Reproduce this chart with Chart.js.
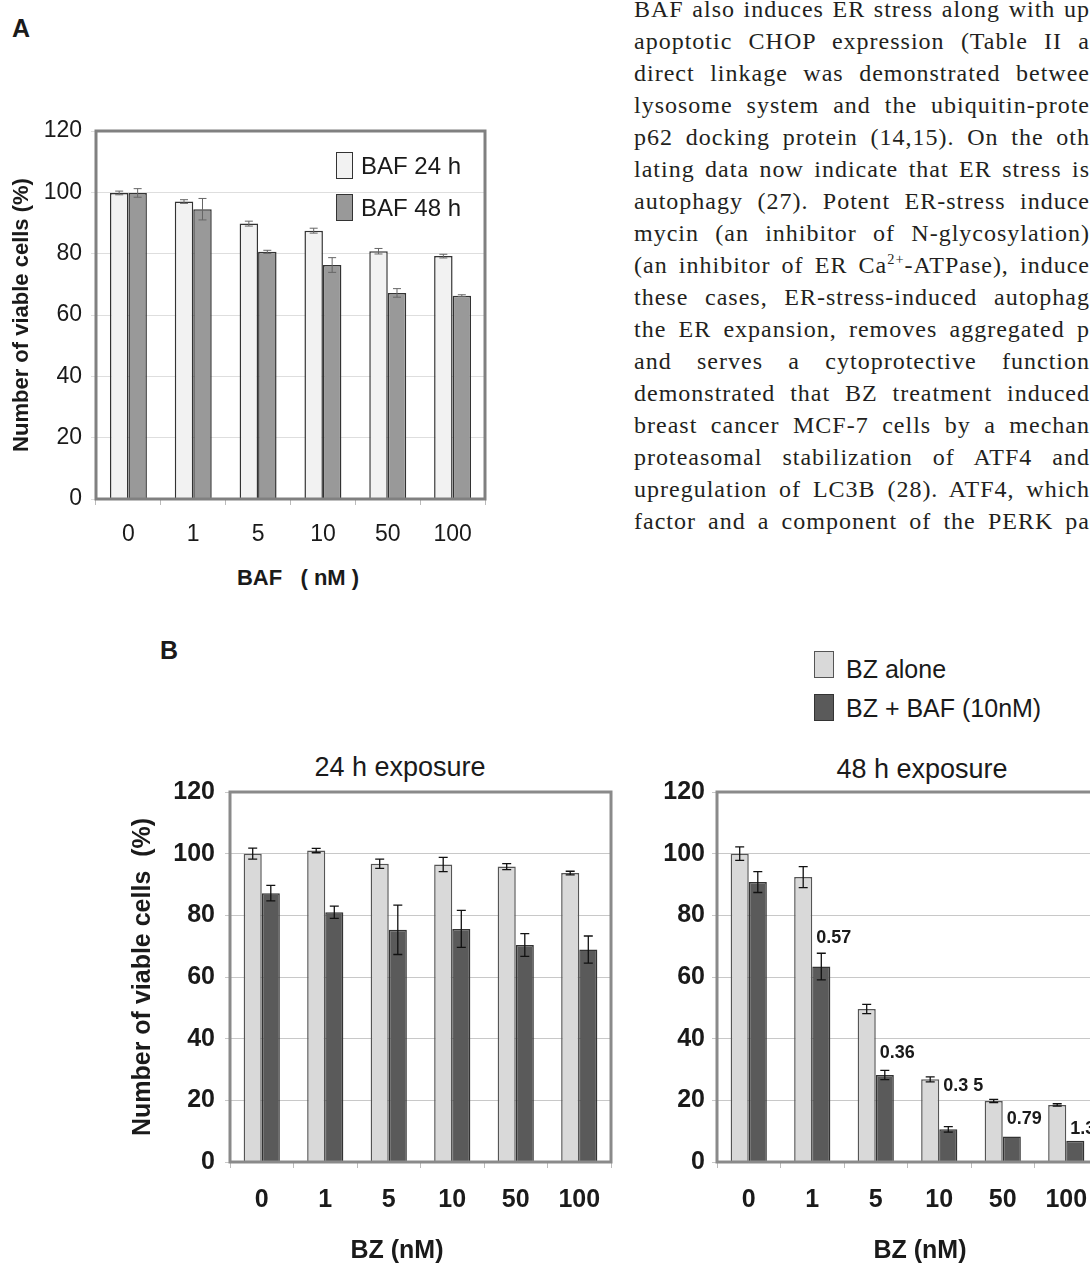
<!DOCTYPE html>
<html>
<head>
<meta charset="utf-8">
<script src="https://cdn.jsdelivr.net/npm/chart.js@4.4.0/dist/chart.umd.min.js"></script>
<style>
  html, body { margin: 0; padding: 0; background: #fff; }
  body { width: 1090px; height: 1264px; overflow: hidden; position: relative; font-family: "Liberation Sans", Arial, sans-serif; color: #1a1a1a; }
  canvas { position: absolute; }
  .t { position: absolute; white-space: nowrap; }
  .panel { font-size: 25px; font-weight: bold; line-height: 25px; }
  .sw { position: absolute; box-sizing: border-box; border: 1.5px solid #333; }
  #para { position: absolute; left: 634px; top: -7px; width: 456px; font-family: "Liberation Serif", "Times New Roman", serif; font-size: 24px; color: #231f20; letter-spacing: 1px; }
  #para div { height: 32px; line-height: 32px; overflow: hidden; text-align: justify; text-align-last: justify; }
  #para sup { font-size: 0.6em; line-height: 0; vertical-align: 0.6em; }
</style>
</head>
<body>

<div class="t panel" style="left:12px;top:16px">A</div>
<div class="t panel" style="left:160px;top:638px">B</div>

<div id="para">
  <div>BAF also induces ER stress along with up</div>
  <div>apoptotic CHOP expression (Table II a</div>
  <div>direct linkage was demonstrated betwee</div>
  <div>lysosome system and the ubiquitin-prote</div>
  <div>p62 docking protein (14,15). On the oth</div>
  <div>lating data now indicate that ER stress is</div>
  <div>autophagy (27). Potent ER-stress induce</div>
  <div>mycin (an inhibitor of N-glycosylation)</div>
  <div>(an inhibitor of ER Ca<sup>2+</sup>-ATPase), induce</div>
  <div>these cases, ER-stress-induced autophag</div>
  <div>the ER expansion, removes aggregated p</div>
  <div>and serves a cytoprotective function</div>
  <div>demonstrated that BZ treatment induced</div>
  <div>breast cancer MCF-7 cells by a mechan</div>
  <div>proteasomal stabilization of ATF4 and</div>
  <div>upregulation of LC3B (28). ATF4, which</div>
  <div>factor and a component of the PERK pa</div>
</div>

<!-- panel A -->
<canvas id="chartA" width="500" height="460" style="left:0px;top:100px"></canvas>
<div class="sw" style="left:336px;top:152px;width:17px;height:27px;background:#f2f2f2"></div>
<div class="sw" style="left:336px;top:194px;width:17px;height:27px;background:#999"></div>
<div class="t" style="left:361px;top:154px;font-size:24px;line-height:24px">BAF 24 h</div>
<div class="t" style="left:361px;top:196px;font-size:24px;line-height:24px">BAF 48 h</div>
<div class="t" style="left:198px;top:567px;width:200px;text-align:center;font-size:22px;line-height:22px;font-weight:bold">BAF&nbsp;&nbsp;&nbsp;( nM )</div>

<!-- panel B -->
<div class="sw" style="left:814px;top:651px;width:20px;height:27px;background:#d9d9d9;border-color:#555"></div>
<div class="sw" style="left:814px;top:694px;width:20px;height:27px;background:#5a5a5a"></div>
<div class="t" style="left:846px;top:657px;font-size:25px;line-height:25px">BZ alone</div>
<div class="t" style="left:846px;top:696px;font-size:25px;line-height:25px">BZ + BAF (10nM)</div>

<div class="t" style="left:250px;top:754px;width:300px;text-align:center;font-size:27px;line-height:27px">24 h exposure</div>
<div class="t" style="left:772px;top:756px;width:300px;text-align:center;font-size:27px;line-height:27px">48 h exposure</div>

<canvas id="chartB1" width="510" height="524" style="left:110px;top:740px"></canvas>
<canvas id="chartB2" width="490" height="524" style="left:620px;top:740px"></canvas>

<div class="t" style="left:297px;top:1237px;width:200px;text-align:center;font-size:25px;line-height:25px;font-weight:bold">BZ (nM)</div>
<div class="t" style="left:820px;top:1237px;width:200px;text-align:center;font-size:25px;line-height:25px;font-weight:bold">BZ (nM)</div>

<script>
// doses on the x axis (nM)
const DOSES = ['0', '1', '5', '10', '50', '100'];
const Y_TICKS = [0, 20, 40, 60, 80, 100, 120];

// A: BAF alone
const BAF_24H = [99.8, 97.0, 89.8, 87.5, 80.8, 79.2];
const BAF_24H_ERR = [0.6, 0.6, 0.8, 0.8, 0.9, 0.6];
const BAF_48H = [99.8, 94.5, 80.6, 76.3, 67.2, 66.3];
const BAF_48H_ERR = [1.4, 3.5, 0.5, 2.4, 1.4, 0.3];

// B: 24 h exposure
const BZ_ALONE_24 = [100, 101, 96.7, 96.5, 95.8, 93.7];
const BZ_ALONE_24_ERR = [1.8, 0.7, 1.5, 2.3, 1.0, 0.6];
const BZ_BAF_24 = [87.2, 81.0, 75.3, 75.6, 70.4, 68.9];
const BZ_BAF_24_ERR = [2.5, 2.0, 8.0, 6.0, 3.7, 4.4];

// B: 48 h exposure
const BZ_ALONE_48 = [100, 92.4, 49.6, 26.8, 19.8, 18.5];
const BZ_ALONE_48_ERR = [2.2, 3.4, 1.5, 0.8, 0.5, 0.4];
const BZ_BAF_48 = [90.8, 63.4, 28.2, 10.6, 8.3, 6.9];
const BZ_BAF_48_ERR = [3.4, 4.3, 1.5, 0.9, 0, 0];
// ratio numbers printed next to the combined bars, and the level they sit at
const RATIO_TEXT = ['', '0.57', '0.36', '0.3 5', '0.79', '1.3'];
const RATIO_AT = [null, 72.7, 35.4, 24.7, 14.0, 10.7];

Chart.defaults.font.family = '"Liberation Sans", Arial, sans-serif';
Chart.defaults.color = '#1a1a1a';

// frame around the plot, error bars and the ratio labels
const panelExtras = {
    id: 'panelExtras',
    afterDatasetsDraw(chart, args, opts) {
        const ctx = chart.ctx;
        const a = chart.chartArea;
        const y = chart.scales.y;
        ctx.save();
        ctx.strokeStyle = opts.frameColor;
        ctx.lineWidth = 3;
        ctx.strokeRect(a.left, a.top, a.right - a.left, a.bottom - a.top);

        ctx.strokeStyle = opts.errColor;
        ctx.lineWidth = opts.errWidth;
        chart.data.datasets.forEach((ds, i) => {
            chart.getDatasetMeta(i).data.forEach((bar, j) => {
                const e = ds.errors[j];
                if (!e) return;
                const hi = y.getPixelForValue(ds.data[j] + e);
                const lo = y.getPixelForValue(ds.data[j] - e);
                const c = opts.cap;
                ctx.beginPath();
                ctx.moveTo(bar.x, hi); ctx.lineTo(bar.x, lo);
                ctx.moveTo(bar.x - c, hi); ctx.lineTo(bar.x + c, hi);
                ctx.moveTo(bar.x - c, lo); ctx.lineTo(bar.x + c, lo);
                ctx.stroke();
            });
        });

        if (opts.ratios) {
            const bars = chart.getDatasetMeta(1).data;
            ctx.fillStyle = '#1a1a1a';
            ctx.font = 'bold 18px "Liberation Sans", Arial, sans-serif';
            ctx.textAlign = 'left';
            ctx.textBaseline = 'middle';
            opts.ratios.text.forEach((t, j) => {
                if (!t) return;
                ctx.fillText(t, bars[j].x - 5, y.getPixelForValue(opts.ratios.at[j]));
            });
        }
        ctx.restore();
    }
};

function makeBars(id, s) {
    let ctx = document.getElementById(id).getContext('2d');
    return new Chart(ctx, {
        type: 'bar',
        data: {
            labels: DOSES,
            datasets: s.datasets.map(d => ({
                label: d.label,
                data: d.data,
                errors: d.errors,
                backgroundColor: d.fill,
                borderColor: d.line,
                borderWidth: 1.5,
                categoryPercentage: 0.57,
                barPercentage: 1
            }))
        },
        options: {
            responsive: false,
            animation: false,
            layout: { padding: { top: s.padTop, right: s.padRight, left: 0, bottom: 0 } },
            plugins: {
                legend: { display: false },
                tooltip: { enabled: false },
                panelExtras: s.extras
            },
            scales: {
                x: {
                    afterFit: sc => { sc.height = s.xHeight; },
                    grid: { drawOnChartArea: false, drawTicks: true, tickLength: 6, color: '#bbbbbb' },
                    border: { display: false },
                    ticks: { font: s.tickFont, padding: s.xPad, color: '#1a1a1a' }
                },
                y: {
                    min: Y_TICKS[0],
                    max: Y_TICKS[Y_TICKS.length - 1],
                    afterFit: sc => { sc.width = s.yWidth; },
                    grid: { color: s.gridColor, tickLength: 5 },
                    border: { display: false },
                    ticks: { stepSize: Y_TICKS[1] - Y_TICKS[0], font: s.tickFont, padding: s.yPad, color: '#1a1a1a' },
                    title: s.yTitle
                }
            }
        },
        plugins: [panelExtras]
    });
}

makeBars('chartA', {
    datasets: [
        { label: 'BAF 24 h', data: BAF_24H, errors: BAF_24H_ERR, fill: '#f2f2f2', line: '#333' },
        { label: 'BAF 48 h', data: BAF_48H, errors: BAF_48H_ERR, fill: '#999999', line: '#333' }
    ],
    padTop: 31, padRight: 15, yWidth: 96, xHeight: 61,
    tickFont: { size: 23 }, xPad: 16, yPad: 9,
    gridColor: '#dedede',
    yTitle: { display: true, text: 'Number of viable cells (%)', font: { size: 22, weight: 'bold' }, padding: { top: 9, bottom: 0 }, color: '#1a1a1a' },
    extras: { frameColor: '#808080', errColor: '#666', errWidth: 1, cap: 4 }
});

makeBars('chartB1', {
    datasets: [
        { label: 'BZ alone', data: BZ_ALONE_24, errors: BZ_ALONE_24_ERR, fill: '#d9d9d9', line: '#555' },
        { label: 'BZ + BAF (10nM)', data: BZ_BAF_24, errors: BZ_BAF_24_ERR, fill: '#5a5a5a', line: '#333' }
    ],
    padTop: 52, padRight: 9, yWidth: 120, xHeight: 102,
    tickFont: { size: 25, weight: 'bold' }, xPad: 17, yPad: 10,
    gridColor: '#c8c8c8',
    yTitle: { display: true, text: 'Number of viable cells  (%)', font: { size: 25, weight: 'bold' }, padding: { top: 18, bottom: 0 }, color: '#1a1a1a' },
    extras: { frameColor: '#8a8a8a', errColor: '#111', errWidth: 1.3, cap: 4.5 }
});

makeBars('chartB2', {
    datasets: [
        { label: 'BZ alone', data: BZ_ALONE_48, errors: BZ_ALONE_48_ERR, fill: '#d9d9d9', line: '#555' },
        { label: 'BZ + BAF (10nM)', data: BZ_BAF_48, errors: BZ_BAF_48_ERR, fill: '#5a5a5a', line: '#333' }
    ],
    padTop: 52, padRight: 12, yWidth: 97, xHeight: 102,
    tickFont: { size: 25, weight: 'bold' }, xPad: 17, yPad: 7,
    gridColor: '#c8c8c8',
    yTitle: { display: false },
    extras: { frameColor: '#8a8a8a', errColor: '#111', errWidth: 1.3, cap: 4.5, ratios: { text: RATIO_TEXT, at: RATIO_AT } }
});
</script>
</body>
</html>
